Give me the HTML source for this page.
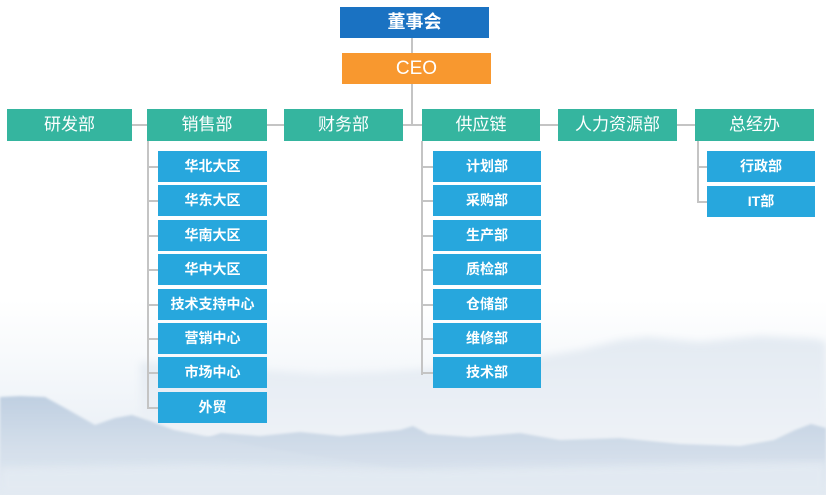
<!DOCTYPE html>
<html><head><meta charset="utf-8">
<style>
html,body{margin:0;padding:0;}
body{width:826px;height:495px;position:relative;overflow:hidden;background:#fff;font-family:"Liberation Sans","Noto Sans CJK SC",sans-serif;}
.b{position:absolute;color:#fff;text-align:center;box-sizing:border-box;}
.top{left:340px;top:7px;width:149px;height:31px;line-height:31px;background:#1a72c2;font-size:18px;font-weight:bold;}
.ceo{left:342px;top:53px;width:149px;height:31px;line-height:31px;background:#f8982f;font-size:19px;}
.l2{top:109px;height:32px;line-height:32px;background:#35b59f;font-size:17px;}
.s{height:31px;line-height:31px;background:#27a7dd;font-size:14px;font-weight:bold;}
.ln{position:absolute;background:#c4c4c4;}
svg{position:absolute;left:0;top:0;}
</style></head><body>
<svg width="826" height="495" viewBox="0 0 826 495">
<defs>
<linearGradient id="g0" x1="0" y1="0" x2="0" y2="1">
<stop offset="0" stop-color="#ffffff"/><stop offset="0.5" stop-color="#f1f5f9"/><stop offset="1" stop-color="#e2e9f2"/></linearGradient>
<linearGradient id="g1" x1="0" y1="0" x2="0" y2="1">
<stop offset="0" stop-color="#e3eaf2"/><stop offset="1" stop-color="#f3f6f9"/></linearGradient>
<linearGradient id="g2" x1="0" y1="0" x2="0" y2="1">
<stop offset="0" stop-color="#bfcfe1"/><stop offset="0.5" stop-color="#d3deea"/><stop offset="1" stop-color="#e2e9f1"/></linearGradient>
<linearGradient id="g3" x1="0" y1="0" x2="0" y2="1">
<stop offset="0" stop-color="#c9d6e5"/><stop offset="1" stop-color="#e0e8f0"/></linearGradient>
<filter id="bl"><feGaussianBlur stdDeviation="1.2"/></filter>
<filter id="bl2"><feGaussianBlur stdDeviation="4"/></filter>
</defs>
<rect x="0" y="300" width="826" height="195" fill="url(#g0)"/>
<path filter="url(#bl2)" d="M140 362 L200 366 L260 370 L320 374 L380 372 L440 368 L520 360 L580 350 L620 340 L648 337 L700 342 L760 336 L816 339 L826 342 L826 495 L140 495Z" fill="url(#g1)"/>
<path filter="url(#bl)" d="M200 440 L221 433 L260 436 L300 432 L340 436 L380 432 L400 430 L413 426 L428 434 L470 437 L520 433 L560 440 L620 438 L680 444 L740 446 L774 440 L795 430 L811 424 L826 428 L826 495 L200 495Z" fill="url(#g3)"/>
<path filter="url(#bl)" d="M0 397 L20 396 L45 397 L65 408 L95 425 L115 418 L132 415 L150 421 L174 430 L210 437 L260 447 L320 457 L380 466 L440 474 L500 482 L560 495 L0 495Z" fill="url(#g2)"/>
<path filter="url(#bl2)" d="M0 468 L200 465 L400 470 L600 466 L826 462 L826 495 L0 495Z" fill="#e4ebf3" opacity="0.85"/>
</svg>

<div class="ln" style="left:411px;top:38px;width:2px;height:88px;"></div>
<div class="ln" style="left:132px;top:124px;width:563px;height:2px;"></div>
<div class="ln" style="left:147px;top:141px;width:2px;height:268px;"></div>
<div class="ln" style="left:421px;top:141px;width:2px;height:234px;"></div>
<div class="ln" style="left:697px;top:141px;width:2px;height:62px;"></div>

<div class="ln" style="left:147px;top:166px;width:11px;height:2px;"></div>
<div class="ln" style="left:147px;top:200px;width:11px;height:2px;"></div>
<div class="ln" style="left:147px;top:235px;width:11px;height:2px;"></div>
<div class="ln" style="left:147px;top:269px;width:11px;height:2px;"></div>
<div class="ln" style="left:147px;top:304px;width:11px;height:2px;"></div>
<div class="ln" style="left:147px;top:338px;width:11px;height:2px;"></div>
<div class="ln" style="left:147px;top:372px;width:11px;height:2px;"></div>
<div class="ln" style="left:147px;top:407px;width:11px;height:2px;"></div>

<div class="ln" style="left:421px;top:166px;width:12px;height:2px;"></div>
<div class="ln" style="left:421px;top:200px;width:12px;height:2px;"></div>
<div class="ln" style="left:421px;top:235px;width:12px;height:2px;"></div>
<div class="ln" style="left:421px;top:269px;width:12px;height:2px;"></div>
<div class="ln" style="left:421px;top:304px;width:12px;height:2px;"></div>
<div class="ln" style="left:421px;top:338px;width:12px;height:2px;"></div>
<div class="ln" style="left:421px;top:372px;width:12px;height:2px;"></div>

<div class="ln" style="left:697px;top:166px;width:10px;height:2px;"></div>
<div class="ln" style="left:697px;top:201px;width:10px;height:2px;"></div>

<div class="b top">董事会</div>
<div class="b ceo">CEO</div>

<div class="b l2" style="left:7px;width:125px;">研发部</div>
<div class="b l2" style="left:147px;width:120px;">销售部</div>
<div class="b l2" style="left:284px;width:119px;">财务部</div>
<div class="b l2" style="left:422px;width:118px;">供应链</div>
<div class="b l2" style="left:558px;width:119px;">人力资源部</div>
<div class="b l2" style="left:695px;width:119px;">总经办</div>

<div class="b s" style="left:158px;top:151px;width:109px;">华北大区</div>
<div class="b s" style="left:158px;top:185px;width:109px;">华东大区</div>
<div class="b s" style="left:158px;top:220px;width:109px;">华南大区</div>
<div class="b s" style="left:158px;top:254px;width:109px;">华中大区</div>
<div class="b s" style="left:158px;top:289px;width:109px;">技术支持中心</div>
<div class="b s" style="left:158px;top:323px;width:109px;">营销中心</div>
<div class="b s" style="left:158px;top:357px;width:109px;">市场中心</div>
<div class="b s" style="left:158px;top:392px;width:109px;">外贸</div>

<div class="b s" style="left:433px;top:151px;width:108px;">计划部</div>
<div class="b s" style="left:433px;top:185px;width:108px;">采购部</div>
<div class="b s" style="left:433px;top:220px;width:108px;">生产部</div>
<div class="b s" style="left:433px;top:254px;width:108px;">质检部</div>
<div class="b s" style="left:433px;top:289px;width:108px;">仓储部</div>
<div class="b s" style="left:433px;top:323px;width:108px;">维修部</div>
<div class="b s" style="left:433px;top:357px;width:108px;">技术部</div>

<div class="b s" style="left:707px;top:151px;width:108px;">行政部</div>
<div class="b s" style="left:707px;top:186px;width:108px;">IT部</div>
</body></html>
